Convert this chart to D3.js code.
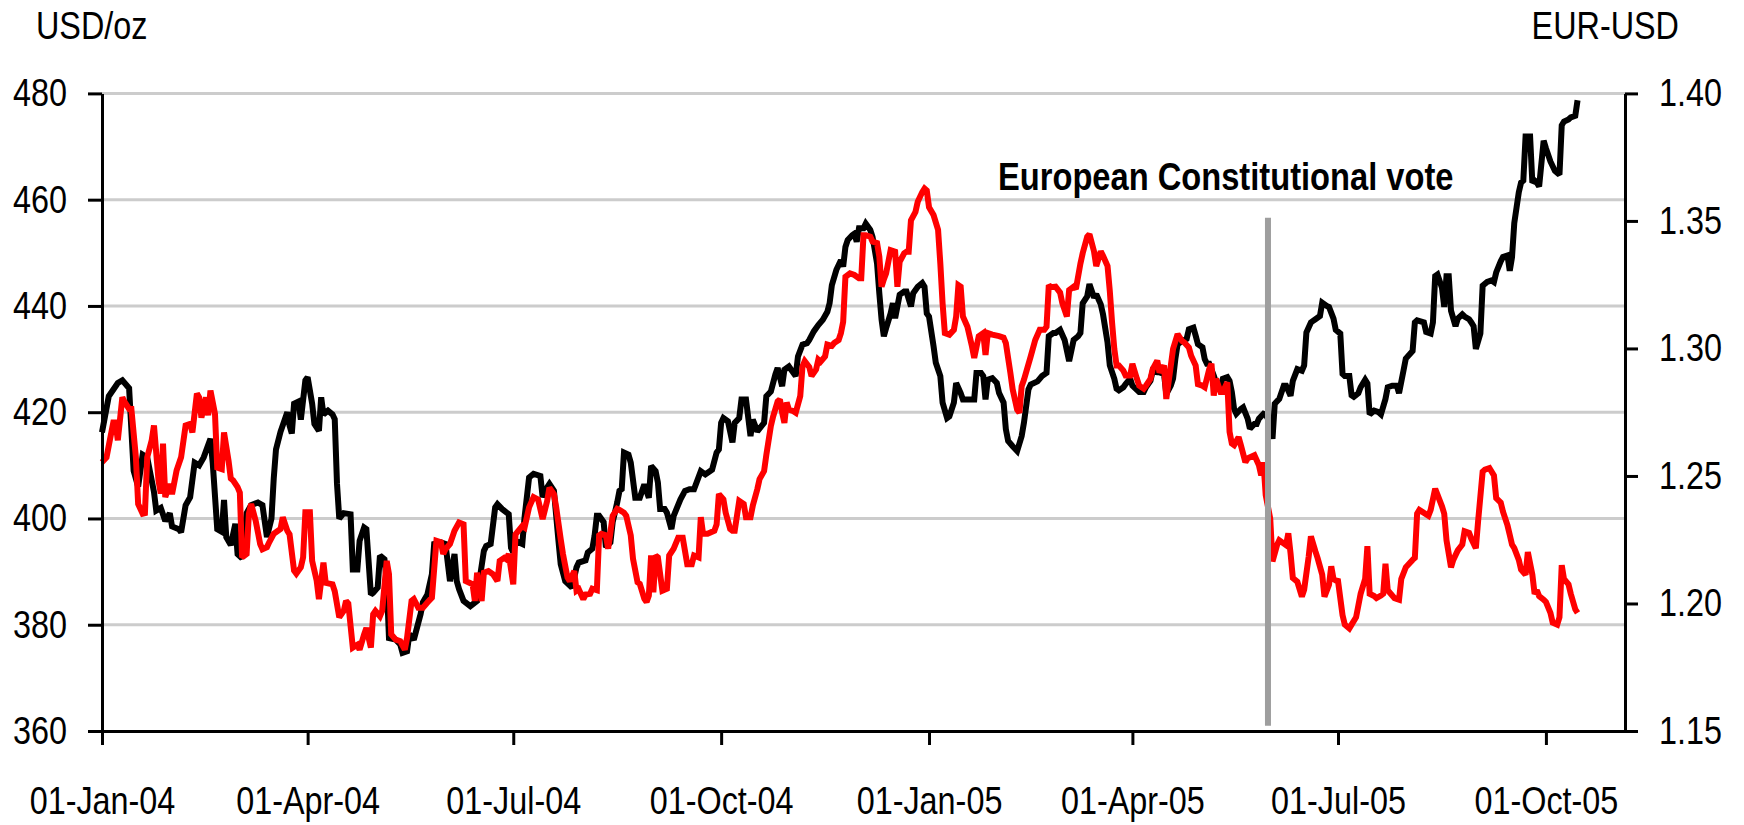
<!DOCTYPE html>
<html><head><meta charset="utf-8">
<script src="https://cdn.jsdelivr.net/npm/d3@7"></script>
<style>
html,body{margin:0;padding:0;background:#fff;}
svg{display:block;background:#fff;}
text{font-family:"Liberation Sans",Arial,Helvetica,sans-serif;}
</style></head><body>
<svg id="chart" width="1744" height="825"></svg>
<script>
// ---------- data ----------
const xTickDates = ["2004-01-01","2004-04-01","2004-07-01","2004-10-01","2005-01-01","2005-04-01","2005-07-01","2005-10-01"];
const xDomain = ["2004-01-01","2005-11-05"];
const leftTicks = [360,380,400,420,440,460,480];
const rightTicks = [1.15,1.20,1.25,1.30,1.35,1.40];
const leftTitle = "USD/oz";
const rightTitle = "EUR-USD";
const annotationText = "European Constitutional vote";
const voteDate = "2005-05-31";
const voteLineSpan = [361, 456.6]; // in USD/oz units

// Gold, USD/oz (black, left axis)
const goldUsdOz = [
["2004-01-01",416.2],["2004-01-04",423],["2004-01-08",425.5],["2004-01-10",426],["2004-01-13",424.5],["2004-01-15",409],["2004-01-17",406],["2004-01-19",412],["2004-01-21",411.5],["2004-01-24",405],["2004-01-25",401.5],["2004-01-27",402],["2004-01-29",399.5],["2004-01-31",401],
["2004-02-01",398.5],["2004-02-04",398],["2004-02-05",397.4],["2004-02-07",402.5],["2004-02-09",404],["2004-02-11",410.5],["2004-02-13",410],["2004-02-15",411.5],["2004-02-18",415],["2004-02-19",410.5],["2004-02-21",398],["2004-02-23",397.5],["2004-02-24",403.5],["2004-02-25",396.5],["2004-02-27",395],["2004-02-29",399],
["2004-03-01",393.3],["2004-03-03",392.5],["2004-03-05",401],["2004-03-07",402.5],["2004-03-10",403],["2004-03-12",402.5],["2004-03-14",396.5],["2004-03-16",400],["2004-03-17",407.5],["2004-03-18",413],["2004-03-20",416.3],["2004-03-23",420],["2004-03-24",417.5],["2004-03-25",416],["2004-03-26",421.6],["2004-03-28",422],["2004-03-29",418.6],["2004-03-31",426],
["2004-04-01",426.6],["2004-04-03",421.6],["2004-04-04",417.8],["2004-04-06",416.5],["2004-04-07",422.8],["2004-04-08",419.6],["2004-04-10",420.3],["2004-04-12",419.6],["2004-04-13",418.7],["2004-04-14",406.5],["2004-04-15",400],["2004-04-17",401],["2004-04-20",400.8],["2004-04-21",390.4],["2004-04-23",390.4],["2004-04-24",395.8],["2004-04-26",398.3],["2004-04-27",398],["2004-04-29",385.7],["2004-04-30",386],
["2004-05-02",387],["2004-05-03",393],["2004-05-05",392.3],["2004-05-06",388.2],["2004-05-07",377.5],["2004-05-10",377.2],["2004-05-12",376.3],["2004-05-13",374.7],["2004-05-15",375],["2004-05-16",378.2],["2004-05-18",377.2],["2004-05-21",382],["2004-05-22",384.2],["2004-05-24",385.7],["2004-05-26",389.5],["2004-05-27",395.2],["2004-05-30",395.5],
["2004-06-01",395.2],["2004-06-03",388.2],["2004-06-05",393.3],["2004-06-06",388.2],["2004-06-07",386.7],["2004-06-09",384.5],["2004-06-12",383.5],["2004-06-15",384.5],["2004-06-16",388.2],["2004-06-18",393.9],["2004-06-19",394.8],["2004-06-21",395.2],["2004-06-23",402.1],["2004-06-24",402.7],["2004-06-26",401.8],["2004-06-29",400.8],["2004-06-30",394.5],
["2004-07-01",393.6],["2004-07-02",395.8],["2004-07-05",395.2],["2004-07-06",400.2],["2004-07-08",407.7],["2004-07-10",408.4],["2004-07-13",408],["2004-07-14",404],["2004-07-15",405.2],["2004-07-17",406.5],["2004-07-19",405.2],["2004-07-21",395.8],["2004-07-22",391.4],["2004-07-24",388.2],["2004-07-27",387],["2004-07-29",390.8],["2004-07-30",391.7],
["2004-08-02",392.1],["2004-08-03",393.6],["2004-08-05",394.3],["2004-08-06",396.8],["2004-08-07",400.5],["2004-08-08",400.5],["2004-08-10",399.3],["2004-08-11",394.6],["2004-08-13",395.5],["2004-08-14",399.3],["2004-08-16",403],["2004-08-17",405.2],["2004-08-18",405.5],["2004-08-19",412.4],["2004-08-21",412],["2004-08-22",410.5],["2004-08-24",403.9],["2004-08-26",403.9],["2004-08-28",406.4],["2004-08-30",403.9],["2004-08-31",409.9],
["2004-09-02",408.9],["2004-09-03",406.8],["2004-09-04",401.8],["2004-09-06",401.8],["2004-09-07",401.1],["2004-09-09",398],["2004-09-10",400.5],["2004-09-13",403.6],["2004-09-15",405.2],["2004-09-17",405.5],["2004-09-19",405.5],["2004-09-22",408.9],["2004-09-24",408.3],["2004-09-26",408.9],["2004-09-27",409.2],["2004-09-29",412.4],["2004-09-30",413],
["2004-10-01",418],["2004-10-02",418.9],["2004-10-04",418.3],["2004-10-06",414.3],["2004-10-07",418],["2004-10-09",418.9],["2004-10-10",422.4],["2004-10-12",422.4],["2004-10-14",415.5],["2004-10-15",418.6],["2004-10-17",416.4],["2004-10-20",418],["2004-10-21",423],["2004-10-23",423.9],["2004-10-25",427.1],["2004-10-26",428.3],["2004-10-28",424.9],["2004-10-29",428],["2004-10-31",428.6],
["2004-11-01",428],["2004-11-03",426.8],["2004-11-04",430.5],["2004-11-06",432.7],["2004-11-08",433],["2004-11-09",433.6],["2004-11-11",435.2],["2004-11-13",436.4],["2004-11-15",437.4],["2004-11-17",438.9],["2004-11-18",440.5],["2004-11-19",443.9],["2004-11-21",446.8],["2004-11-23",448.6],["2004-11-24",447.4],["2004-11-25",451.1],["2004-11-26",452.4],["2004-11-28",453.3],["2004-11-29",453.6],["2004-11-30",452.1],
["2004-12-01",454.6],["2004-12-03",454.6],["2004-12-04",455.5],["2004-12-06",454.3],["2004-12-07",453],["2004-12-09",448],["2004-12-10",442.4],["2004-12-11",437.4],["2004-12-12",434.3],["2004-12-13",435.8],["2004-12-15",438.6],["2004-12-16",440.5],["2004-12-17",437.7],["2004-12-18",439.9],["2004-12-19",442.1],["2004-12-21",442.7],["2004-12-22",442.7],["2004-12-24",439.9],["2004-12-25",442.4],["2004-12-27",443.6],["2004-12-29",444.3],["2004-12-30",443.6],["2004-12-31",438.6],
["2005-01-01",438],["2005-01-03",432.4],["2005-01-04",429.3],["2005-01-06",426.8],["2005-01-07",421.8],["2005-01-09",418.9],["2005-01-10",419.2],["2005-01-12",421.8],["2005-01-13",425.5],["2005-01-15",423.6],["2005-01-16",422.4],["2005-01-18",422.4],["2005-01-21",422.4],["2005-01-22",427.4],["2005-01-24",427.4],["2005-01-25",426.8],["2005-01-26",422.4],["2005-01-27",426.1],["2005-01-29",426.4],["2005-01-31",425.5],
["2005-02-01",423.6],["2005-02-03",421.8],["2005-02-04",416.8],["2005-02-05",414.6],["2005-02-07",413.6],["2005-02-09",412.7],["2005-02-11",415.5],["2005-02-12",418],["2005-02-14",424.3],["2005-02-15",425.2],["2005-02-18",425.8],["2005-02-20",426.8],["2005-02-22",427.4],["2005-02-23",434.3],["2005-02-25",434.9],["2005-02-26",434.9],["2005-02-28",435.5],
["2005-03-02",433.6],["2005-03-04",429.6],["2005-03-06",433.6],["2005-03-08",434.3],["2005-03-09",434.9],["2005-03-10",440.5],["2005-03-12",441.8],["2005-03-13",444.1],["2005-03-15",441.6],["2005-03-16",442.2],["2005-03-18",440.3],["2005-03-19",438.4],["2005-03-21",433.1],["2005-03-22",428.8],["2005-03-24",426.3],["2005-03-25",424.4],["2005-03-26",424.1],["2005-03-28",424.7],["2005-03-29",425.3],["2005-03-31",426.3],
["2005-04-01",425],["2005-04-04",423.8],["2005-04-06",423.8],["2005-04-07",424.7],["2005-04-09",425.9],["2005-04-10",427.8],["2005-04-12",427.5],["2005-04-13",427.5],["2005-04-15",427.2],["2005-04-16",423.4],["2005-04-18",425],["2005-04-19",426.3],["2005-04-20",430],["2005-04-21",432.8],["2005-04-23",433.4],["2005-04-25",433.8],["2005-04-26",435.6],["2005-04-28",435.9],["2005-04-29",434.4],["2005-04-30",432.8],
["2005-05-02",432.2],["2005-05-03",430],["2005-05-04",429.1],["2005-05-05",429.1],["2005-05-07",426.9],["2005-05-08",425.6],["2005-05-10",424.7],["2005-05-11",426.3],["2005-05-13",426.6],["2005-05-14",425.9],["2005-05-15",423.8],["2005-05-16",420.6],["2005-05-17",419.7],["2005-05-19",420.6],["2005-05-20",420.9],["2005-05-22",418.8],["2005-05-23",416.9],["2005-05-25",417.8],["2005-05-26",417.8],["2005-05-27",418.8],["2005-05-29",419.7],["2005-05-30",419.5],
["2005-06-01",418],["2005-06-02",415],["2005-06-03",421.6],["2005-06-05",422.5],["2005-06-07",425],["2005-06-08",425],["2005-06-10",423.1],["2005-06-11",425.9],["2005-06-13",428.1],["2005-06-15",427.8],["2005-06-16",428.8],["2005-06-17",435],["2005-06-19",436.9],["2005-06-21",437.5],["2005-06-23",438.1],["2005-06-24",440.6],["2005-06-26",440],["2005-06-27",439.8],["2005-06-29",437.6],["2005-06-30",435.5],
["2005-07-02",434.8],["2005-07-03",427.2],["2005-07-04",426.8],["2005-07-06",426.8],["2005-07-07",423.2],["2005-07-08",422.9],["2005-07-10",423.6],["2005-07-11",424.7],["2005-07-13",426.1],["2005-07-14",425.4],["2005-07-15",419.6],["2005-07-17",420.3],["2005-07-19",420],["2005-07-20",419.6],["2005-07-22",422.5],["2005-07-23",424.7],["2005-07-25",425],["2005-07-27",425],["2005-07-28",423.6],["2005-07-30",427.9],["2005-07-31",430.1],
["2005-08-03",431.5],["2005-08-04",436.9],["2005-08-05",437.3],["2005-08-08",436.9],["2005-08-09",435.1],["2005-08-11",434.8],["2005-08-12",436.9],["2005-08-13",445.6],["2005-08-14",445.9],["2005-08-16",443.4],["2005-08-17",439.8],["2005-08-18",445.6],["2005-08-19",445.6],["2005-08-20",439.1],["2005-08-22",436.2],["2005-08-23",437.6],["2005-08-25",438.4],["2005-08-26",438],["2005-08-28",437.5],["2005-08-29",436.9],["2005-08-30",436.2],["2005-08-31",431.9],
["2005-09-02",434.8],["2005-09-03",443.8],["2005-09-05",444.5],["2005-09-07",444.8],["2005-09-08",444.5],["2005-09-09",446.3],["2005-09-11",448.4],["2005-09-12",449.2],["2005-09-14",449.5],["2005-09-15",446.6],["2005-09-16",449.2],["2005-09-17",455.6],["2005-09-18",458.5],["2005-09-19",461.4],["2005-09-20",463.2],["2005-09-21",463.6],["2005-09-22",471.9],["2005-09-24",471.9],["2005-09-25",463.2],["2005-09-26",463.6],["2005-09-27",463.2],["2005-09-28",462.5],["2005-09-30",471.1],
["2005-10-01",469.7],["2005-10-03",467.2],["2005-10-05",465.4],["2005-10-07",464.7],["2005-10-08",474],["2005-10-09",474.7],["2005-10-11",475.1],["2005-10-12",475.5],["2005-10-14",475.8],["2005-10-15",478.7]
];

// EUR-USD (red, right axis)
const eurUsd = [
["2004-01-01",1.2554],["2004-01-03",1.2573],["2004-01-04",1.2619],["2004-01-06",1.2710],["2004-01-07",1.2710],["2004-01-08",1.2640],["2004-01-10",1.2808],["2004-01-11",1.2790],["2004-01-13",1.2763],["2004-01-14",1.2763],["2004-01-16",1.2573],["2004-01-17",1.2390],["2004-01-19",1.2352],["2004-01-20",1.2354],["2004-01-21",1.2573],["2004-01-23",1.2640],["2004-01-24",1.2698],["2004-01-26",1.2483],["2004-01-27",1.2431],["2004-01-28",1.2627],["2004-01-29",1.2417],["2004-01-31",1.2469],
["2004-02-01",1.2429],["2004-02-03",1.2521],["2004-02-05",1.2573],["2004-02-07",1.2698],["2004-02-09",1.2704],["2004-02-10",1.2671],["2004-02-12",1.2823],["2004-02-13",1.2808],["2004-02-14",1.2729],["2004-02-16",1.2808],["2004-02-17",1.2738],["2004-02-18",1.2835],["2004-02-20",1.2744],["2004-02-21",1.2533],["2004-02-23",1.2527],["2004-02-24",1.2671],["2004-02-26",1.2560],["2004-02-27",1.2490],["2004-02-28",1.2483],
["2004-03-01",1.2456],["2004-03-02",1.2435],["2004-03-03",1.2181],["2004-03-05",1.2194],["2004-03-06",1.2352],["2004-03-07",1.2390],["2004-03-09",1.2325],["2004-03-11",1.2233],["2004-03-12",1.2213],["2004-03-14",1.2221],["2004-03-15",1.2240],["2004-03-17",1.2273],["2004-03-20",1.2292],["2004-03-21",1.2338],["2004-03-23",1.2285],["2004-03-24",1.2271],["2004-03-26",1.2129],["2004-03-27",1.2117],["2004-03-29",1.2142],["2004-03-30",1.2181],["2004-03-31",1.2358],
["2004-04-02",1.2358],["2004-04-03",1.2167],["2004-04-05",1.2090],["2004-04-06",1.2017],["2004-04-08",1.2160],["2004-04-09",1.2081],["2004-04-12",1.2075],["2004-04-13",1.2048],["2004-04-15",1.1946],["2004-04-17",1.1971],["2004-04-18",1.2010],["2004-04-19",1.2000],["2004-04-21",1.1827],["2004-04-23",1.1838],["2004-04-24",1.1819],["2004-04-26",1.1879],["2004-04-27",1.1904],["2004-04-29",1.1827],["2004-04-30",1.1958],
["2004-05-01",1.1971],["2004-05-03",1.1950],["2004-05-04",1.1971],["2004-05-06",1.2167],["2004-05-07",1.2115],["2004-05-08",1.1879],["2004-05-10",1.1858],["2004-05-12",1.1852],["2004-05-14",1.1819],["2004-05-15",1.1865],["2004-05-17",1.2010],["2004-05-18",1.2017],["2004-05-20",1.1983],["2004-05-22",1.1983],["2004-05-24",1.2004],["2004-05-26",1.2023],["2004-05-28",1.2246],["2004-05-30",1.2240],["2004-05-31",1.2194],
["2004-06-01",1.2213],["2004-06-03",1.2233],["2004-06-05",1.2285],["2004-06-07",1.2317],["2004-06-09",1.2310],["2004-06-10",1.2088],["2004-06-13",1.2075],["2004-06-14",1.2010],["2004-06-15",1.2121],["2004-06-17",1.2010],["2004-06-18",1.2121],["2004-06-20",1.2127],["2004-06-22",1.2115],["2004-06-24",1.2088],["2004-06-25",1.2167],["2004-06-27",1.2179],["2004-06-28",1.2173],["2004-06-29",1.2194],
["2004-07-01",1.2075],["2004-07-02",1.2271],["2004-07-05",1.2304],["2004-07-06",1.2298],["2004-07-08",1.2377],["2004-07-10",1.2417],["2004-07-12",1.2408],["2004-07-14",1.2331],["2004-07-16",1.2402],["2004-07-17",1.2454],["2004-07-19",1.2429],["2004-07-20",1.2377],["2004-07-22",1.2252],["2004-07-23",1.2194],["2004-07-25",1.2102],["2004-07-26",1.2088],["2004-07-28",1.2127],["2004-07-29",1.2050],["2004-07-30",1.2056],
["2004-08-01",1.2017],["2004-08-02",1.2035],["2004-08-04",1.2038],["2004-08-05",1.2058],["2004-08-07",1.2052],["2004-08-08",1.2267],["2004-08-09",1.2273],["2004-08-11",1.2267],["2004-08-12",1.2215],["2004-08-14",1.2344],["2004-08-16",1.2371],["2004-08-17",1.2367],["2004-08-19",1.2356],["2004-08-20",1.2344],["2004-08-22",1.2267],["2004-08-23",1.2175],["2004-08-25",1.2083],["2004-08-26",1.2077],["2004-08-28",1.2019],["2004-08-29",1.2006],["2004-08-30",1.2031],["2004-08-31",1.2188],
["2004-09-01",1.2044],["2004-09-02",1.2188],["2004-09-03",1.2181],["2004-09-05",1.2050],["2004-09-07",1.2058],["2004-09-08",1.2188],["2004-09-10",1.2215],["2004-09-12",1.2258],["2004-09-14",1.2258],["2004-09-16",1.2154],["2004-09-18",1.2154],["2004-09-19",1.2188],["2004-09-21",1.2181],["2004-09-22",1.2338],["2004-09-23",1.2273],["2004-09-25",1.2273],["2004-09-28",1.2285],["2004-09-29",1.2310],["2004-09-30",1.2429],
["2004-10-02",1.2408],["2004-10-03",1.2356],["2004-10-05",1.2292],["2004-10-06",1.2285],["2004-10-07",1.2285],["2004-10-09",1.2402],["2004-10-11",1.2390],["2004-10-12",1.2338],["2004-10-14",1.2338],["2004-10-15",1.2383],["2004-10-17",1.2448],["2004-10-18",1.2488],["2004-10-20",1.2519],["2004-10-21",1.2583],["2004-10-23",1.2696],["2004-10-24",1.2733],["2004-10-26",1.2792],["2004-10-27",1.2800],["2004-10-28",1.2748],["2004-10-29",1.2708],["2004-10-30",1.2788],["2004-10-31",1.2760],
["2004-11-02",1.2754],["2004-11-03",1.2748],["2004-11-05",1.2813],["2004-11-06",1.2929],["2004-11-07",1.2950],["2004-11-09",1.2927],["2004-11-10",1.2892],["2004-11-12",1.2917],["2004-11-13",1.2956],["2004-11-14",1.2948],["2004-11-16",1.2969],["2004-11-17",1.3015],["2004-11-19",1.3010],["2004-11-20",1.3021],["2004-11-22",1.3033],["2004-11-23",1.3060],["2004-11-24",1.3104],["2004-11-25",1.3281],["2004-11-27",1.3294],["2004-11-29",1.3288],
["2004-12-01",1.3275],["2004-12-02",1.3275],["2004-12-03",1.3444],["2004-12-04",1.3444],["2004-12-06",1.3438],["2004-12-07",1.3419],["2004-12-09",1.3413],["2004-12-10",1.3360],["2004-12-11",1.3242],["2004-12-12",1.3271],["2004-12-13",1.3294],["2004-12-14",1.3340],["2004-12-15",1.3385],["2004-12-17",1.3379],["2004-12-18",1.3242],["2004-12-19",1.3340],["2004-12-21",1.3373],["2004-12-22",1.3379],["2004-12-23",1.3379],["2004-12-24",1.3502],["2004-12-26",1.3535],["2004-12-27",1.3575],["2004-12-29",1.3613],["2004-12-30",1.3627],["2004-12-31",1.3619],
["2005-01-01",1.3554],["2005-01-03",1.3523],["2005-01-05",1.3465],["2005-01-06",1.3333],["2005-01-07",1.3177],["2005-01-08",1.3060],["2005-01-10",1.3054],["2005-01-12",1.3073],["2005-01-13",1.3125],["2005-01-14",1.3248],["2005-01-15",1.3242],["2005-01-16",1.3125],["2005-01-18",1.3085],["2005-01-20",1.3008],["2005-01-21",1.2963],["2005-01-23",1.3048],["2005-01-25",1.3060],["2005-01-26",1.2975],["2005-01-27",1.3060],["2005-01-29",1.3054],
["2005-02-01",1.3048],["2005-02-03",1.3042],["2005-02-04",1.3021],["2005-02-06",1.2904],["2005-02-07",1.2840],["2005-02-09",1.2760],["2005-02-10",1.2748],["2005-02-11",1.2852],["2005-02-12",1.2877],["2005-02-15",1.2969],["2005-02-17",1.3033],["2005-02-19",1.3073],["2005-02-21",1.3073],["2005-02-22",1.3085],["2005-02-23",1.3248],["2005-02-24",1.3240],["2005-02-26",1.3242],["2005-02-28",1.3219],
["2005-03-01",1.3177],["2005-03-03",1.3125],["2005-03-04",1.3229],["2005-03-06",1.3242],["2005-03-07",1.3233],["2005-03-09",1.3333],["2005-03-10",1.3373],["2005-03-12",1.3438],["2005-03-13",1.3448],["2005-03-15",1.3381],["2005-03-16",1.3323],["2005-03-18",1.3381],["2005-03-19",1.3363],["2005-03-21",1.3323],["2005-03-22",1.3225],["2005-03-23",1.3102],["2005-03-24",1.2998],["2005-03-25",1.2933],["2005-03-26",1.2933],["2005-03-28",1.2913],["2005-03-29",1.2894],["2005-03-31",1.2894],
["2005-04-01",1.2940],["2005-04-03",1.2881],["2005-04-04",1.2854],["2005-04-06",1.2842],["2005-04-07",1.2854],["2005-04-09",1.2881],["2005-04-10",1.2919],["2005-04-12",1.2952],["2005-04-13",1.2906],["2005-04-15",1.2933],["2005-04-16",1.2802],["2005-04-18",1.2933],["2005-04-19",1.2998],["2005-04-21",1.3056],["2005-04-23",1.3029],["2005-04-24",1.3023],["2005-04-26",1.3004],["2005-04-27",1.2971],["2005-04-29",1.2933],["2005-04-30",1.2860],
["2005-05-02",1.2854],["2005-05-03",1.2848],["2005-05-05",1.2919],["2005-05-06",1.2940],["2005-05-07",1.2815],["2005-05-08",1.2881],["2005-05-10",1.2829],["2005-05-11",1.2829],["2005-05-13",1.2867],["2005-05-14",1.2673],["2005-05-15",1.2627],["2005-05-16",1.2621],["2005-05-18",1.2652],["2005-05-19",1.2621],["2005-05-21",1.2554],["2005-05-22",1.2569],["2005-05-25",1.2581],["2005-05-27",1.2542],["2005-05-28",1.2502],["2005-05-29",1.2554],["2005-05-30",1.2425],
["2005-06-01",1.2333],["2005-06-02",1.2165],["2005-06-04",1.2229],["2005-06-05",1.2248],["2005-06-08",1.2229],["2005-06-09",1.2275],["2005-06-10",1.2196],["2005-06-11",1.2100],["2005-06-13",1.2085],["2005-06-15",1.2027],["2005-06-16",1.2054],["2005-06-18",1.2183],["2005-06-19",1.2263],["2005-06-21",1.2204],["2005-06-22",1.2177],["2005-06-24",1.2113],["2005-06-25",1.2027],["2005-06-27",1.2073],["2005-06-28",1.2146],["2005-06-29",1.2096],["2005-06-30",1.2090],
["2005-07-01",1.2088],["2005-07-03",1.1954],["2005-07-04",1.1917],["2005-07-06",1.1902],["2005-07-07",1.1917],["2005-07-09",1.1946],["2005-07-10",1.1992],["2005-07-11",1.2038],["2005-07-13",1.2096],["2005-07-14",1.2225],["2005-07-15",1.2038],["2005-07-17",1.2029],["2005-07-18",1.2021],["2005-07-20",1.2031],["2005-07-21",1.2038],["2005-07-22",1.2156],["2005-07-23",1.2052],["2005-07-26",1.2021],["2005-07-28",1.2015],["2005-07-29",1.2096],["2005-07-31",1.2142],
["2005-08-03",1.2171],["2005-08-04",1.2179],["2005-08-05",1.2352],["2005-08-06",1.2367],["2005-08-10",1.2344],["2005-08-11",1.2367],["2005-08-13",1.2450],["2005-08-14",1.2427],["2005-08-16",1.2381],["2005-08-17",1.2352],["2005-08-18",1.2248],["2005-08-20",1.2142],["2005-08-21",1.2171],["2005-08-23",1.2208],["2005-08-25",1.2231],["2005-08-26",1.2283],["2005-08-28",1.2277],["2005-08-29",1.2254],["2005-08-31",1.2217],
["2005-09-01",1.2323],["2005-09-03",1.2517],["2005-09-04",1.2525],["2005-09-06",1.2531],["2005-09-08",1.2502],["2005-09-09",1.2413],["2005-09-11",1.2396],["2005-09-12",1.2360],["2005-09-14",1.2306],["2005-09-15",1.2269],["2005-09-16",1.2231],["2005-09-17",1.2217],["2005-09-19",1.2171],["2005-09-20",1.2133],["2005-09-22",1.2113],["2005-09-23",1.2202],["2005-09-25",1.2113],["2005-09-26",1.2038],["2005-09-27",1.2052],["2005-09-28",1.2029],["2005-09-30",1.2015],
["2005-10-01",1.2006],["2005-10-03",1.1963],["2005-10-04",1.1925],["2005-10-06",1.1917],["2005-10-07",1.1946],["2005-10-08",1.2150],["2005-10-09",1.2096],["2005-10-11",1.2075],["2005-10-12",1.2038],["2005-10-14",1.1977],["2005-10-15",1.1963]
];

// ---------- layout ----------
const M = {left: 102, right: 1625, top: 93.4, bottom: 731};
const FONT = 39;
const NARROW = 0.83;   // horizontal compression to mimic a narrow typeface

const parse = d3.timeParse("%Y-%m-%d");
const svg = d3.select("#chart");

const x = d3.scaleTime().domain(xDomain.map(parse)).range([M.left, M.right]);
const yL = d3.scaleLinear().domain([360, 480]).range([M.bottom, M.top]);
const yR = d3.scaleLinear().domain([1.15, 1.40]).range([M.bottom, M.top]);

// gridlines
svg.append("g").selectAll("line")
  .data(leftTicks.filter(v => v !== 360))
  .join("line")
  .attr("x1", M.left).attr("x2", M.right)
  .attr("y1", d => yL(d)).attr("y2", d => yL(d))
  .attr("stroke", "#cccccc").attr("stroke-width", 3);

// series
const goldLine = d3.line().x(d => x(parse(d[0]))).y(d => yL(d[1]));
const eurLine = d3.line().x(d => x(parse(d[0]))).y(d => yR(d[1]));

svg.append("path").datum(goldUsdOz)
  .attr("d", goldLine).attr("fill", "none").attr("stroke", "#000000")
  .attr("stroke-width", 6).attr("stroke-linejoin", "miter").attr("stroke-miterlimit", 2);

svg.append("path").datum(eurUsd)
  .attr("d", eurLine).attr("fill", "none").attr("stroke", "#ff0000")
  .attr("stroke-width", 6).attr("stroke-linejoin", "miter").attr("stroke-miterlimit", 2);

// vote marker
svg.append("line")
  .attr("x1", x(parse(voteDate))).attr("x2", x(parse(voteDate)))
  .attr("y1", yL(voteLineSpan[0])).attr("y2", yL(voteLineSpan[1]))
  .attr("stroke", "#9e9e9e").attr("stroke-width", 6);

// helpers
function narrowText(sel, k) {
  sel.each(function () {
    const t = d3.select(this);
    const xv = +t.attr("x") || 0;
    t.attr("x", xv / k).attr("transform", `scale(${k},1)`);
  });
}
function styleAxis(g) {
  g.select(".domain").attr("stroke", "#000").attr("stroke-width", 3);
  g.selectAll(".tick line").attr("stroke", "#000").attr("stroke-width", 3);
  g.selectAll(".tick text").attr("fill", "#000")
    .style("font-family", '"Liberation Sans", Arial, sans-serif')
    .style("font-size", FONT + "px")
    .call(narrowText, NARROW);
}

svg.append("g").attr("transform", `translate(${M.left},0)`)
  .call(d3.axisLeft(yL).tickValues(leftTicks).tickFormat(d3.format("d"))
    .tickSize(14).tickSizeOuter(0).tickPadding(21))
  .call(styleAxis);

svg.append("g").attr("transform", `translate(${M.right},0)`)
  .call(d3.axisRight(yR).tickValues(rightTicks).tickFormat(d3.format(".2f"))
    .tickSize(13).tickSizeOuter(0).tickPadding(21))
  .call(styleAxis);

svg.append("g").attr("transform", `translate(0,${M.bottom})`)
  .call(d3.axisBottom(x).tickValues(xTickDates.map(parse)).tickFormat(d3.timeFormat("%d-%b-%y"))
    .tickSize(14).tickSizeOuter(0).tickPadding(41))
  .call(styleAxis);

// titles
svg.append("text").attr("x", 36).attr("y", 39).attr("text-anchor", "start")
  .style("font-size", FONT + "px").text(leftTitle).call(narrowText, NARROW);
svg.append("text").attr("x", 1679).attr("y", 39).attr("text-anchor", "end")
  .style("font-size", FONT + "px").text(rightTitle).call(narrowText, NARROW);

// annotation
svg.append("text").attr("x", 998).attr("y", 190).attr("text-anchor", "start")
  .style("font-size", "38px").style("font-weight", "bold").text(annotationText)
  .call(narrowText, 0.86);
</script>
</body></html>
